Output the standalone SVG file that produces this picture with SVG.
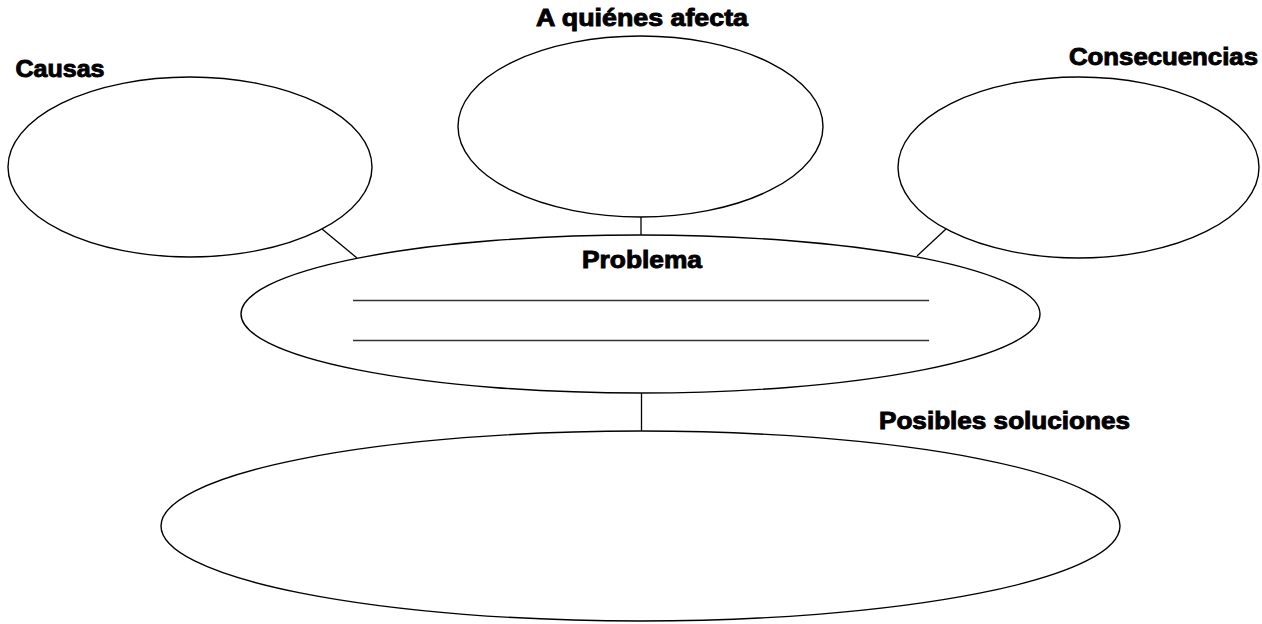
<svg xmlns="http://www.w3.org/2000/svg" width="1262" height="624" viewBox="0 0 1262 624">
<style>
.node{fill:#fff;stroke:#000;stroke-width:1.4}
.conn{stroke:#000;stroke-width:1.3;fill:none}
.rule{stroke:#333;stroke-width:1.5}
.lbl{font-family:"Liberation Sans",Arial,sans-serif;font-weight:bold;font-size:23px;fill:#000;stroke:#000;stroke-width:0.9}
</style>
<rect width="1262" height="624" fill="#fff"/>
<g id="connectors">
<line class="conn" x1="322" y1="229" x2="357" y2="258"/>
<line class="conn" x1="641" y1="216" x2="641" y2="236"/>
<line class="conn" x1="946" y1="229" x2="917" y2="256"/>
<line class="conn" x1="641.5" y1="393" x2="641.5" y2="431"/>
</g>
<g id="causas">
<ellipse class="node" cx="190" cy="167" rx="182" ry="90"/>
<text class="lbl" x="15.5" y="77" textLength="89" lengthAdjust="spacingAndGlyphs">Causas</text>
</g>
<g id="afecta">
<ellipse class="node" cx="640.5" cy="126.5" rx="182.5" ry="90.5"/>
<text class="lbl" x="536" y="26" textLength="212" lengthAdjust="spacingAndGlyphs">A quiénes afecta</text>
</g>
<g id="consecuencias">
<ellipse class="node" cx="1078.5" cy="167.5" rx="180.5" ry="90.5"/>
<text class="lbl" x="1069" y="65" textLength="189" lengthAdjust="spacingAndGlyphs">Consecuencias</text>
</g>
<g id="problema">
<ellipse class="node" cx="640.5" cy="314" rx="399.5" ry="79"/>
<text class="lbl" x="582" y="268" textLength="120" lengthAdjust="spacingAndGlyphs">Problema</text>
<line class="rule" x1="353" y1="300.5" x2="929" y2="300.5"/>
<line class="rule" x1="353" y1="340.5" x2="929" y2="340.5"/>
</g>
<g id="soluciones">
<ellipse class="node" cx="640.5" cy="526" rx="479.5" ry="95"/>
<text class="lbl" x="879" y="429" textLength="251" lengthAdjust="spacingAndGlyphs">Posibles soluciones</text>
</g>
</svg>
